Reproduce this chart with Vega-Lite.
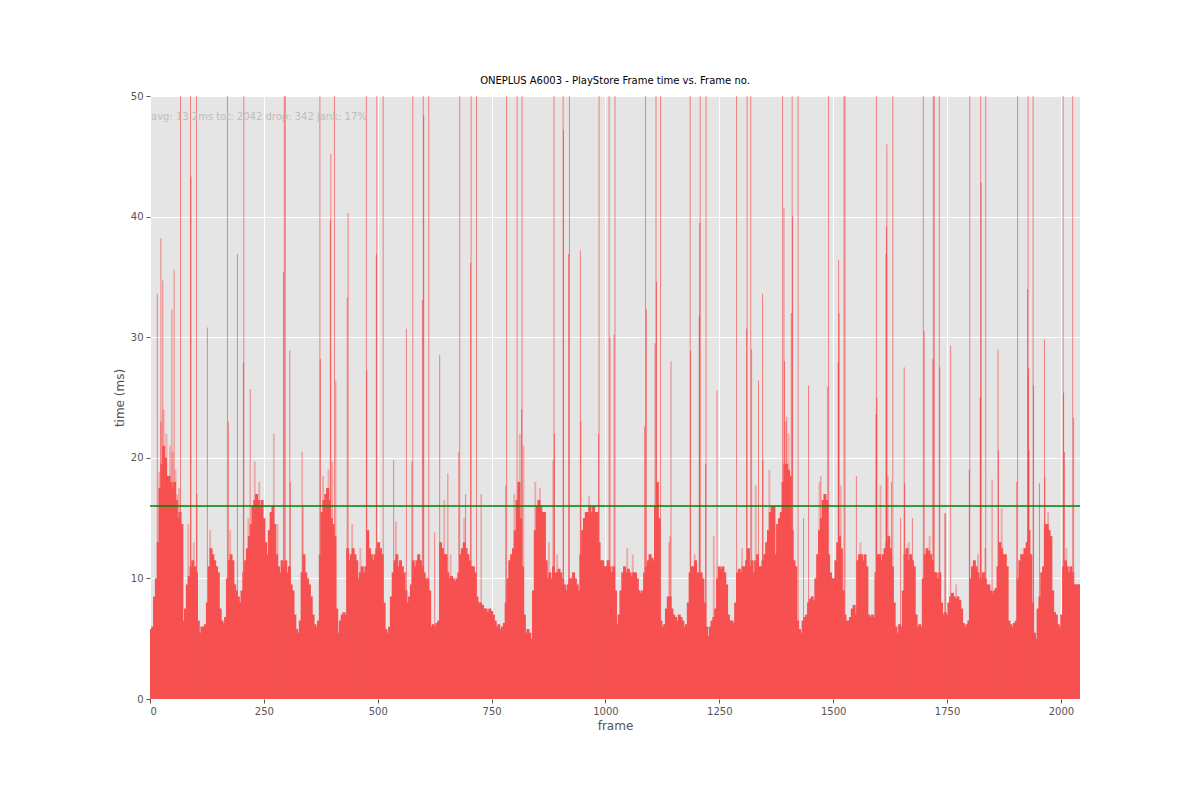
{
  "$schema": "https://vega.github.io/schema/vega-lite/v6.json",
  "autosize": "none",
  "padding": {"left": 150, "top": 96, "right": 120, "bottom": 101},
  "width": 930,
  "height": 603,
  "background": "white",
  "title": {
    "text": "ONEPLUS A6003 - PlayStore Frame time vs. Frame no.",
    "fontSize": 10,
    "fontWeight": "normal",
    "font": "DejaVu Sans",
    "color": "black",
    "offset": 5
  },
  "datasets": {
    "base": [
      {"f":2,"t":5.8},{"f":6,"t":6.0},{"f":10,"t":8.5},{"f":14,"t":10},{"f":18,"t":13},{"f":22,"t":17.5},{"f":26,"t":19.5},{"f":30,"t":21},{"f":34,"t":20},{"f":38,"t":18.5},
      {"f":42,"t":18.5},{"f":46,"t":18},{"f":50,"t":17.5},{"f":54,"t":18},{"f":58,"t":16.5},{"f":62,"t":15},{"f":66,"t":15.5},{"f":70,"t":14.5},{"f":74,"t":6.5},{"f":78,"t":7.5},
      {"f":82,"t":9.5},{"f":86,"t":10.2},{"f":90,"t":11},{"f":94,"t":11.5},{"f":98,"t":11},{"f":102,"t":10.5},{"f":106,"t":6.5},{"f":110,"t":5.5},{"f":114,"t":6},{"f":118,"t":6},
      {"f":122,"t":6.2},{"f":126,"t":8},{"f":130,"t":11},{"f":134,"t":12.5},{"f":138,"t":12},{"f":142,"t":11.5},{"f":146,"t":11},{"f":150,"t":10.5},{"f":154,"t":7.5},{"f":158,"t":6.5},
      {"f":162,"t":6.3},{"f":166,"t":6.8},{"f":170,"t":10},{"f":174,"t":11.5},{"f":178,"t":12},{"f":182,"t":11.5},{"f":186,"t":9.5},{"f":190,"t":9},{"f":194,"t":8.5},{"f":198,"t":8},
      {"f":202,"t":9},{"f":206,"t":10.5},{"f":210,"t":11.5},{"f":214,"t":12.5},{"f":218,"t":13.5},{"f":222,"t":14.5},{"f":226,"t":16},{"f":230,"t":16.5},{"f":234,"t":17},{"f":238,"t":16.5},
      {"f":242,"t":16},{"f":246,"t":16.5},{"f":250,"t":15},{"f":254,"t":13},{"f":258,"t":12},{"f":262,"t":14},{"f":266,"t":15.5},{"f":270,"t":16},{"f":274,"t":14.5},{"f":278,"t":12},
      {"f":282,"t":11},{"f":286,"t":10.5},{"f":290,"t":11.5},{"f":294,"t":11},{"f":298,"t":11.5},{"f":302,"t":10.5},{"f":306,"t":11},{"f":310,"t":9.5},{"f":314,"t":9},{"f":318,"t":7},
      {"f":322,"t":5.8},{"f":326,"t":5.5},{"f":330,"t":6.5},{"f":334,"t":10.5},{"f":338,"t":12},{"f":342,"t":10.5},{"f":346,"t":10},{"f":350,"t":9.5},{"f":354,"t":8.5},{"f":358,"t":7},
      {"f":362,"t":6.2},{"f":366,"t":6},{"f":370,"t":6.5},{"f":374,"t":12},{"f":378,"t":15.5},{"f":382,"t":16.5},{"f":386,"t":17},{"f":390,"t":17.5},{"f":394,"t":16.5},{"f":398,"t":15},
      {"f":402,"t":14.5},{"f":406,"t":13.5},{"f":410,"t":7.5},{"f":414,"t":5.5},{"f":418,"t":6.5},{"f":422,"t":7},{"f":426,"t":7.2},{"f":430,"t":7},{"f":434,"t":12.5},{"f":438,"t":11.5},
      {"f":442,"t":12},{"f":446,"t":12.5},{"f":450,"t":12},{"f":454,"t":11.5},{"f":458,"t":10},{"f":462,"t":10.5},{"f":466,"t":11},{"f":470,"t":10.5},{"f":474,"t":11},{"f":478,"t":14},
      {"f":482,"t":12.5},{"f":486,"t":12},{"f":490,"t":11.5},{"f":494,"t":12},{"f":498,"t":12.5},{"f":502,"t":13},{"f":506,"t":12.5},{"f":510,"t":12},{"f":514,"t":8},{"f":518,"t":5.8},
      {"f":522,"t":5.5},{"f":526,"t":6},{"f":530,"t":8.5},{"f":534,"t":10.5},{"f":538,"t":11.5},{"f":542,"t":12},{"f":546,"t":11},{"f":550,"t":11.5},{"f":554,"t":11},{"f":558,"t":10.5},
      {"f":562,"t":9},{"f":566,"t":8},{"f":570,"t":8.5},{"f":574,"t":9.5},{"f":578,"t":11.5},{"f":582,"t":11},{"f":586,"t":11.5},{"f":590,"t":12},{"f":594,"t":11.5},{"f":598,"t":11},
      {"f":602,"t":10.5},{"f":606,"t":10},{"f":610,"t":10},{"f":614,"t":9},{"f":618,"t":6},{"f":622,"t":6.2},{"f":626,"t":6},{"f":630,"t":6.3},{"f":634,"t":6.5},{"f":638,"t":13},
      {"f":642,"t":12.5},{"f":646,"t":12},{"f":650,"t":12},{"f":654,"t":10.5},{"f":658,"t":10},{"f":662,"t":10.2},{"f":666,"t":10},{"f":670,"t":9.8},{"f":674,"t":10},{"f":678,"t":10.5},
      {"f":682,"t":12},{"f":686,"t":12.5},{"f":690,"t":13},{"f":694,"t":12.5},{"f":698,"t":12},{"f":702,"t":11.5},{"f":706,"t":11},{"f":710,"t":11},{"f":714,"t":10.5},{"f":718,"t":8.5},
      {"f":722,"t":8},{"f":726,"t":8},{"f":730,"t":7.8},{"f":734,"t":7.5},{"f":738,"t":7.5},{"f":742,"t":7.2},{"f":746,"t":7.5},{"f":750,"t":7.3},{"f":754,"t":7},{"f":758,"t":6.5},
      {"f":762,"t":6},{"f":766,"t":6.2},{"f":770,"t":5.8},{"f":774,"t":6},{"f":778,"t":6.3},{"f":782,"t":8},{"f":786,"t":10},{"f":790,"t":11.5},{"f":794,"t":12},{"f":798,"t":12.5},
      {"f":802,"t":14},{"f":806,"t":16.5},{"f":810,"t":18},{"f":814,"t":15},{"f":818,"t":11},{"f":822,"t":7},{"f":826,"t":5.5},{"f":830,"t":5.8},{"f":834,"t":5.5},{"f":838,"t":5},
      {"f":842,"t":9},{"f":846,"t":14},{"f":850,"t":16},{"f":854,"t":16.5},{"f":858,"t":16},{"f":862,"t":15.5},{"f":866,"t":15.5},{"f":870,"t":11.5},{"f":874,"t":10},{"f":878,"t":10.5},
      {"f":882,"t":10},{"f":886,"t":11},{"f":890,"t":10.5},{"f":894,"t":10.5},{"f":898,"t":10.8},{"f":902,"t":10.5},{"f":906,"t":10},{"f":910,"t":9.5},{"f":914,"t":9},{"f":918,"t":9.5},
      {"f":922,"t":10},{"f":926,"t":10},{"f":930,"t":10.5},{"f":934,"t":10},{"f":938,"t":9.5},{"f":942,"t":9},{"f":946,"t":12},{"f":950,"t":14},{"f":954,"t":15},{"f":958,"t":15.5},
      {"f":962,"t":15.5},{"f":966,"t":16},{"f":970,"t":15.5},{"f":974,"t":16},{"f":978,"t":15.5},{"f":982,"t":15.5},{"f":986,"t":13},{"f":990,"t":11.5},{"f":994,"t":11.5},{"f":998,"t":11},
      {"f":1002,"t":11},{"f":1006,"t":11.5},{"f":1010,"t":11},{"f":1014,"t":10.5},{"f":1018,"t":11},{"f":1022,"t":9},{"f":1026,"t":6.2},{"f":1030,"t":7},{"f":1034,"t":9},{"f":1038,"t":10.5},
      {"f":1042,"t":11},{"f":1046,"t":10.5},{"f":1050,"t":10.8},{"f":1054,"t":10.5},{"f":1058,"t":10.2},{"f":1062,"t":10.5},{"f":1066,"t":10.5},{"f":1070,"t":10},{"f":1074,"t":9},{"f":1078,"t":8.8},
      {"f":1082,"t":9},{"f":1086,"t":10.5},{"f":1090,"t":11},{"f":1094,"t":11.5},{"f":1098,"t":12},{"f":1102,"t":11.7},{"f":1106,"t":11.5},{"f":1110,"t":16},{"f":1114,"t":18},{"f":1118,"t":15},
      {"f":1122,"t":6.5},{"f":1126,"t":6},{"f":1130,"t":6.2},{"f":1134,"t":7.5},{"f":1138,"t":8.5},{"f":1142,"t":8.5},{"f":1146,"t":7.5},{"f":1150,"t":7},{"f":1154,"t":6.8},{"f":1158,"t":6.5},
      {"f":1162,"t":7},{"f":1166,"t":6.8},{"f":1170,"t":6.5},{"f":1174,"t":6},{"f":1178,"t":6.2},{"f":1182,"t":8},{"f":1186,"t":10.5},{"f":1190,"t":11},{"f":1194,"t":11},{"f":1198,"t":11.5},
      {"f":1202,"t":10.5},{"f":1206,"t":10},{"f":1210,"t":10.5},{"f":1214,"t":10},{"f":1218,"t":8},{"f":1222,"t":6},{"f":1226,"t":5.2},{"f":1230,"t":6},{"f":1234,"t":6.5},{"f":1238,"t":6.8},
      {"f":1242,"t":7.5},{"f":1246,"t":10},{"f":1250,"t":11},{"f":1254,"t":10.8},{"f":1258,"t":11},{"f":1262,"t":10.5},{"f":1266,"t":9.5},{"f":1270,"t":7},{"f":1274,"t":6.5},{"f":1278,"t":6.5},
      {"f":1282,"t":6.3},{"f":1286,"t":8},{"f":1290,"t":10.5},{"f":1294,"t":10.8},{"f":1298,"t":10.5},{"f":1302,"t":11},{"f":1306,"t":11},{"f":1310,"t":11.5},{"f":1314,"t":12.5},{"f":1318,"t":11},
      {"f":1322,"t":11.5},{"f":1326,"t":10.5},{"f":1330,"t":11.5},{"f":1334,"t":12},{"f":1338,"t":11},{"f":1342,"t":11},{"f":1346,"t":11.5},{"f":1350,"t":12},{"f":1354,"t":13},{"f":1358,"t":14},
      {"f":1362,"t":15.5},{"f":1366,"t":16},{"f":1370,"t":16},{"f":1374,"t":12},{"f":1378,"t":14.5},{"f":1382,"t":15},{"f":1386,"t":15.5},{"f":1390,"t":18},{"f":1394,"t":19.5},{"f":1398,"t":19.5},
      {"f":1402,"t":19},{"f":1406,"t":18.5},{"f":1410,"t":14},{"f":1414,"t":11.5},{"f":1418,"t":11},{"f":1422,"t":6.5},{"f":1426,"t":5.8},{"f":1430,"t":5.5},{"f":1434,"t":6.5},{"f":1438,"t":6.8},
      {"f":1442,"t":7},{"f":1446,"t":8},{"f":1450,"t":8.3},{"f":1454,"t":8.5},{"f":1458,"t":8.2},{"f":1462,"t":10},{"f":1466,"t":12},{"f":1470,"t":14},{"f":1474,"t":15},{"f":1478,"t":16.5},
      {"f":1482,"t":17},{"f":1486,"t":16.5},{"f":1490,"t":12},{"f":1494,"t":10.5},{"f":1498,"t":10},{"f":1502,"t":10},{"f":1506,"t":11.5},{"f":1510,"t":13},{"f":1514,"t":13.5},{"f":1518,"t":12.5},
      {"f":1522,"t":9},{"f":1526,"t":7},{"f":1530,"t":6.5},{"f":1534,"t":6.5},{"f":1538,"t":6.8},{"f":1542,"t":7.5},{"f":1546,"t":7.8},{"f":1550,"t":7},{"f":1554,"t":11.5},{"f":1558,"t":12},
      {"f":1562,"t":12},{"f":1566,"t":11.5},{"f":1570,"t":12},{"f":1574,"t":11},{"f":1578,"t":7},{"f":1582,"t":6.8},{"f":1586,"t":7},{"f":1590,"t":6.8},{"f":1594,"t":10.5},{"f":1598,"t":12},
      {"f":1602,"t":12},{"f":1606,"t":11.5},{"f":1610,"t":12},{"f":1614,"t":12.5},{"f":1618,"t":13},{"f":1622,"t":13.5},{"f":1626,"t":12.5},{"f":1630,"t":11},{"f":1634,"t":8},{"f":1638,"t":6},
      {"f":1642,"t":5.5},{"f":1646,"t":6.2},{"f":1650,"t":6},{"f":1654,"t":9},{"f":1658,"t":12},{"f":1662,"t":12.5},{"f":1666,"t":11.5},{"f":1670,"t":12},{"f":1674,"t":11.5},{"f":1678,"t":11},
      {"f":1682,"t":7},{"f":1686,"t":6},{"f":1690,"t":6.2},{"f":1694,"t":6},{"f":1698,"t":10},{"f":1702,"t":12},{"f":1706,"t":12.5},{"f":1710,"t":12.3},{"f":1714,"t":12},{"f":1718,"t":11.5},
      {"f":1722,"t":10.5},{"f":1726,"t":10.5},{"f":1730,"t":10},{"f":1734,"t":10.5},{"f":1738,"t":8},{"f":1742,"t":7},{"f":1746,"t":7.2},{"f":1750,"t":7},{"f":1754,"t":8},{"f":1758,"t":8.5},
      {"f":1762,"t":8.8},{"f":1766,"t":8.5},{"f":1770,"t":8.3},{"f":1774,"t":8.5},{"f":1778,"t":8.2},{"f":1782,"t":7.5},{"f":1786,"t":6.3},{"f":1790,"t":6},{"f":1794,"t":6.2},{"f":1798,"t":6.5},
      {"f":1802,"t":10},{"f":1806,"t":11},{"f":1810,"t":11.5},{"f":1814,"t":11},{"f":1818,"t":10.5},{"f":1822,"t":10},{"f":1826,"t":10},{"f":1830,"t":10.5},{"f":1834,"t":10},{"f":1838,"t":9.5},
      {"f":1842,"t":9.5},{"f":1846,"t":9},{"f":1850,"t":8.8},{"f":1854,"t":9},{"f":1858,"t":9.2},{"f":1862,"t":11},{"f":1866,"t":13},{"f":1870,"t":12.5},{"f":1874,"t":12},{"f":1878,"t":12},
      {"f":1882,"t":11},{"f":1886,"t":6.5},{"f":1890,"t":6.2},{"f":1894,"t":6},{"f":1898,"t":6.3},{"f":1902,"t":6.5},{"f":1906,"t":10},{"f":1910,"t":11.5},{"f":1914,"t":12},{"f":1918,"t":12},
      {"f":1922,"t":12.5},{"f":1926,"t":13},{"f":1930,"t":14},{"f":1934,"t":12},{"f":1938,"t":8},{"f":1942,"t":5.5},{"f":1946,"t":5},{"f":1950,"t":7.5},{"f":1954,"t":8.5},{"f":1958,"t":10.5},
      {"f":1962,"t":11},{"f":1966,"t":14.5},{"f":1970,"t":14.5},{"f":1974,"t":14},{"f":1978,"t":13.5},{"f":1982,"t":9},{"f":1986,"t":7.2},{"f":1990,"t":7},{"f":1994,"t":6.2},{"f":1998,"t":6},
      {"f":2002,"t":7},{"f":2006,"t":11},{"f":2010,"t":11.5},{"f":2014,"t":11},{"f":2018,"t":10.5},{"f":2022,"t":11},{"f":2026,"t":10.5},{"f":2030,"t":9.5},{"f":2034,"t":9.5},{"f":2038,"t":9.5},
      {"f":2041,"t":9.5}
    ],
    "halo": [
      {"f":24,"t":23},{"f":30,"t":24},{"f":36,"t":22},{"f":44,"t":21},{"f":50,"t":20.5},{"f":56,"t":19},{"f":60,"t":17},{"f":64,"t":17.5},{"f":84,"t":14.5},{"f":96,"t":13},
      {"f":132,"t":14},{"f":176,"t":14},{"f":216,"t":15},{"f":230,"t":19.7},{"f":240,"t":18},{"f":280,"t":14.5},{"f":336,"t":16},{"f":380,"t":18.5},{"f":392,"t":19},{"f":444,"t":14.5},
      {"f":462,"t":12.5},{"f":540,"t":14.7},{"f":646,"t":16.5},{"f":660,"t":12},{"f":690,"t":15},{"f":800,"t":17},{"f":812,"t":22},{"f":820,"t":21},{"f":846,"t":18},{"f":856,"t":17.5},
      {"f":876,"t":13},{"f":894,"t":12},{"f":964,"t":16.8},{"f":1048,"t":12.5},{"f":1060,"t":12},{"f":1140,"t":13},{"f":1196,"t":12},{"f":1238,"t":13.5},{"f":1300,"t":12.5},{"f":1330,"t":17.7},
      {"f":1360,"t":19},{"f":1396,"t":23},{"f":1402,"t":22},{"f":1470,"t":18},{"f":1560,"t":13},{"f":1604,"t":17.7},{"f":1620,"t":18.5},{"f":1666,"t":13},{"f":1712,"t":13.5},{"f":1746,"t":15.4},
      {"f":1770,"t":9.5},{"f":1818,"t":12},{"f":1834,"t":12.5},{"f":1870,"t":15.8},{"f":1918,"t":12.5},{"f":1972,"t":15.5},{"f":2012,"t":12.5}
    ],
    "spikes": [
      {"f":16,"t":33.6},{"f":20,"t":18.8},{"f":24,"t":38.2},{"f":28,"t":34.7},{"f":48,"t":32.3},{"f":53,"t":35.6},{"f":67,"t":60},{"f":89,"t":60},{"f":90,"t":43.3},{"f":102,"t":60},
      {"f":103,"t":17},{"f":126,"t":30.8},{"f":170,"t":60},{"f":172,"t":23},{"f":192,"t":36.9},{"f":205,"t":27.9},{"f":206,"t":60},{"f":220,"t":25.7},
      {"f":272,"t":22},{"f":293,"t":35.4},{"f":295,"t":60},{"f":297,"t":60},{"f":307,"t":28.9},{"f":308,"t":18},{"f":334,"t":20.5},{"f":373,"t":60},{"f":374,"t":28.2},{"f":396,"t":39.7},
      {"f":397,"t":45.2},{"f":400,"t":19.7},{"f":405,"t":60},{"f":408,"t":26.4},{"f":433,"t":33.3},{"f":435,"t":40.3},{"f":475,"t":60},{"f":476,"t":27.2},{"f":497,"t":36.9},{"f":498,"t":60},
      {"f":512,"t":60},{"f":535,"t":19.8},{"f":563,"t":30.7},{"f":575,"t":19.7},{"f":577,"t":60},{"f":598,"t":33.1},{"f":600,"t":60},{"f":601,"t":48.4},{"f":612,"t":60},{"f":625,"t":13.8},
      {"f":636,"t":28.5},{"f":654,"t":18.7},{"f":678,"t":20.5},{"f":680,"t":60},{"f":693,"t":17},{"f":704,"t":36.2},{"f":705,"t":60},{"f":717,"t":60},{"f":727,"t":17},{"f":781,"t":17.7},
      {"f":783,"t":60},{"f":806,"t":60},{"f":816,"t":24},{"f":817,"t":60},{"f":885,"t":19.8},{"f":887,"t":60},{"f":888,"t":22},{"f":907,"t":60},{"f":908,"t":47.2},{"f":919,"t":36.9},
      {"f":921,"t":60},{"f":945,"t":37.2},{"f":946,"t":23},{"f":985,"t":22},{"f":986,"t":60},{"f":1008,"t":60},{"f":1010,"t":30},{"f":1019,"t":30.2},{"f":1021,"t":60},{"f":1086,"t":22.6},
      {"f":1088,"t":60},{"f":1090,"t":32.3},{"f":1109,"t":29.5},{"f":1111,"t":60},{"f":1112,"t":34.6},{"f":1121,"t":60},{"f":1142,"t":13.5},{"f":1144,"t":28},{"f":1186,"t":60},{"f":1187,"t":28.9},
      {"f":1206,"t":31.8},{"f":1207,"t":39.5},{"f":1208,"t":60},{"f":1220,"t":19.5},{"f":1221,"t":60},{"f":1245,"t":25.6},{"f":1288,"t":60},{"f":1310,"t":30.7},{"f":1311,"t":60},{"f":1319,"t":60},
      {"f":1321,"t":29},{"f":1336,"t":26.4},{"f":1345,"t":33.6},{"f":1346,"t":19.8},{"f":1389,"t":60},{"f":1392,"t":40.7},{"f":1393,"t":28},{"f":1398,"t":23.4},{"f":1408,"t":32},{"f":1410,"t":60},
      {"f":1411,"t":40},{"f":1423,"t":60},{"f":1435,"t":15},{"f":1446,"t":26},{"f":1473,"t":18.5},{"f":1488,"t":25.9},{"f":1490,"t":60},{"f":1511,"t":27.9},{"f":1512,"t":36.4},{"f":1513,"t":32},
      {"f":1517,"t":17.7},{"f":1524,"t":60},{"f":1526,"t":60},{"f":1551,"t":18.5},{"f":1594,"t":23.6},{"f":1595,"t":60},{"f":1596,"t":25},{"f":1616,"t":36.9},{"f":1617,"t":39.2},{"f":1618,"t":46},
      {"f":1628,"t":18},{"f":1631,"t":60},{"f":1648,"t":15},{"f":1656,"t":27.5},{"f":1657,"t":17.9},{"f":1674,"t":15},{"f":1698,"t":60},{"f":1700,"t":30.5},{"f":1719,"t":28.2},{"f":1720,"t":60},
      {"f":1722,"t":60},{"f":1733,"t":60},{"f":1734,"t":27.5},{"f":1746,"t":15.4},{"f":1758,"t":29.3},{"f":1799,"t":19},{"f":1800,"t":60},{"f":1823,"t":25},{"f":1824,"t":60},{"f":1825,"t":42.8},
      {"f":1835,"t":60},{"f":1849,"t":18.2},{"f":1862,"t":29},{"f":1863,"t":20.6},{"f":1903,"t":18},{"f":1905,"t":60},{"f":1927,"t":34},{"f":1928,"t":60},{"f":1929,"t":27.4},{"f":1930,"t":20.6},
      {"f":1939,"t":60},{"f":1940,"t":26},{"f":1953,"t":17.9},{"f":1964,"t":29.8},{"f":1965,"t":18.4},{"f":2005,"t":60},{"f":2006,"t":25.4},{"f":2008,"t":20.5},{"f":2026,"t":60},{"f":2028,"t":23.3}
    ]
  },
  "encoding": {
    "x": {
      "type": "quantitative",
      "scale": {"domain": [0, 2042], "nice": false, "zero": false, "padding": 0},
      "axis": {"values": [0, 250, 500, 750, 1000, 1250, 1500, 1750, 2000], "format": "d", "title": "frame"}
    },
    "y": {
      "type": "quantitative",
      "scale": {"domain": [0, 50], "nice": false},
      "axis": {"values": [0, 10, 20, 30, 40, 50], "title": "time (ms)"}
    }
  },
  "layer": [
    {
      "data": {"name": "spikes"},
      "mark": {"type": "bar", "orient": "vertical", "size": 1, "color": "red", "opacity": 0.45, "clip": true},
      "encoding": {
        "x": {"field": "f", "type": "quantitative"},
        "y": {"field": "t", "type": "quantitative"}
      }
    },
    {
      "data": {"name": "halo"},
      "mark": {"type": "bar", "orient": "vertical", "size": 2, "color": "red", "opacity": 0.25, "clip": true},
      "encoding": {
        "x": {"field": "f", "type": "quantitative"},
        "y": {"field": "t", "type": "quantitative"}
      }
    },
    {
      "data": {"name": "base"},
      "mark": {"type": "bar", "orient": "vertical", "size": 3, "color": "#f65050", "clip": true},
      "encoding": {
        "x": {"field": "f", "type": "quantitative"},
        "y": {"field": "t", "type": "quantitative"}
      }
    },
    {
      "data": {"values": [{}]},
      "mark": {"type": "rule", "color": "#008000", "strokeWidth": 1.5},
      "encoding": {"y": {"datum": 16}}
    },
    {
      "data": {"values": [{}]},
      "mark": {"type": "text", "align": "left", "baseline": "middle", "fontSize": 10, "font": "DejaVu Sans", "color": "#bdbdbd", "dx": 1},
      "encoding": {
        "x": {"datum": 0},
        "y": {"datum": 48.3},
        "text": {"value": "avg: 13.2ms tot: 2042 drop: 342 jank: 17%"}
      }
    }
  ],
  "config": {
    "view": {"fill": "#e5e5e5", "stroke": null},
    "axis": {
      "grid": true,
      "gridColor": "white",
      "gridWidth": 1,
      "domain": false,
      "tickColor": "#555555",
      "tickSize": 4,
      "labelColor": "#555555",
      "labelFontSize": 10,
      "labelFont": "DejaVu Sans",
      "labelPadding": 3,
      "titleColor": "#555555",
      "titleFontSize": 12,
      "titleFontWeight": "normal",
      "titleFont": "DejaVu Sans"
    },
    "axisX": {"titlePadding": 4},
    "axisY": {"titlePadding": 4}
  }
}
